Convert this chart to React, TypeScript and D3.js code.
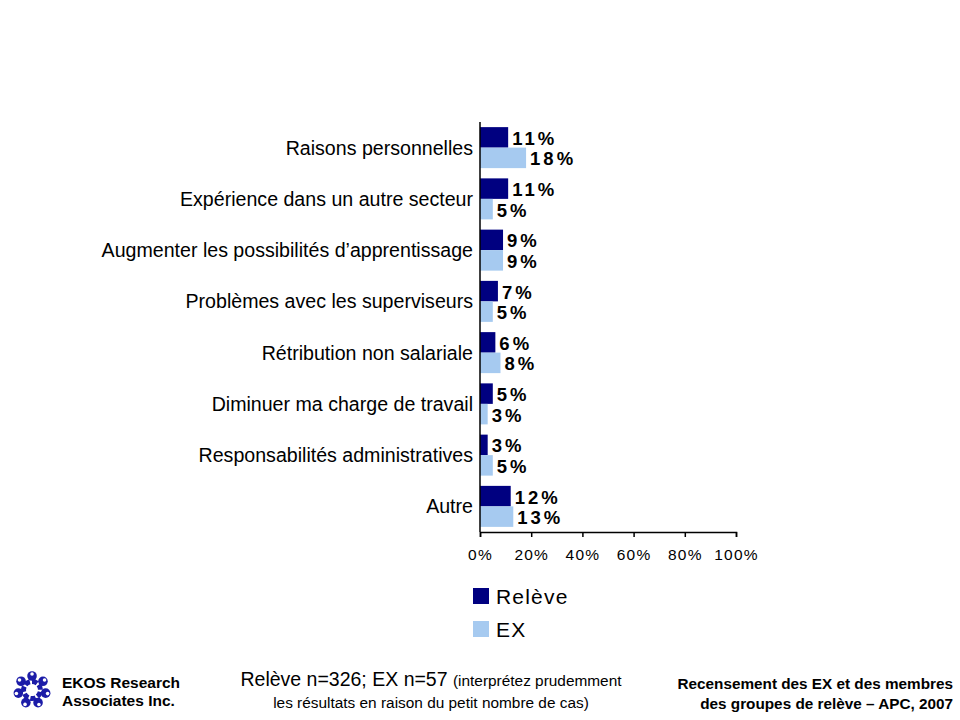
import React, { useEffect, useRef } from 'react'
import * as d3 from 'd3'

const categories = [
    'Raisons personnelles',
    'Expérience dans un autre secteur',
    'Augmenter les possibilités d\u2019apprentissage',
    'Problèmes avec les superviseurs',
    'Rétribution non salariale',
    'Diminuer ma charge de travail',
    'Responsabilités administratives',
    'Autre',
]
const releveValues = [11, 11, 9, 7, 6, 5, 3, 12]
const exValues = [18, 5, 9, 5, 8, 3, 5, 13]
const seriesNames = ['Relève', 'EX']
const seriesColors = ['#000080', '#a6caf0']
const xTicks = [0, 20, 40, 60, 80, 100]

const FONT = '"Liberation Sans", Arial, sans-serif'

const App: React.FC = () => {
    const svgRef = useRef<SVGSVGElement>(null)

    useEffect(() => {
        if (!svgRef.current) return
        const svg = d3.select(svgRef.current)
        svg.selectAll('*').remove()

        const left = 480, right = 736, top = 122, bottom = 532

        const x = d3.scaleLinear().domain([0, 100]).range([left, right])
        const y = d3.scaleBand().domain(categories).range([top, bottom]).paddingInner(0.2).paddingOuter(0.1)
        const sub = d3.scaleBand().domain(seriesNames).range([0, y.bandwidth()])

        const series = [releveValues, exValues]
        const g = svg.append('g')

        // Bars and value labels
        series.forEach((vals, si) => {
            g.selectAll(`.bar${si}`)
                .data(categories)
                .enter().append('rect')
                .attr('x', x(0))
                .attr('y', d => (y(d) as number) + (sub(seriesNames[si]) as number))
                .attr('width', (d, i) => x(vals[i]) - x(0))
                .attr('height', sub.bandwidth())
                .attr('fill', seriesColors[si])

            g.selectAll(`.lbl${si}`)
                .data(categories)
                .enter().append('text')
                .attr('x', (d, i) => x(vals[i]) + 4)
                .attr('y', d => (y(d) as number) + (sub(seriesNames[si]) as number) + sub.bandwidth() / 2 + 1)
                .attr('dominant-baseline', 'central')
                .style('font-family', FONT)
                .style('font-size', '18.5px')
                .style('font-weight', 'bold')
                .style('letter-spacing', '3px')
                .style('fill', '#000')
                .text((d, i) => `${vals[i]}%`)
        })

        // Y axis line + category labels
        g.append('line')
            .attr('x1', left).attr('x2', left)
            .attr('y1', top).attr('y2', bottom)
            .attr('stroke', '#000').attr('stroke-width', 1.5)

        g.selectAll('.cat')
            .data(categories)
            .enter().append('text')
            .attr('x', left - 7)
            .attr('y', d => (y(d) as number) + y.bandwidth() / 2)
            .attr('dominant-baseline', 'central')
            .attr('text-anchor', 'end')
            .style('font-family', FONT)
            .style('font-size', '19.6px')
            .style('fill', '#000')
            .text(d => d)

        // X axis
        const xAxis = g.append('g')
            .attr('transform', `translate(0,${bottom})`)
            .call(d3.axisBottom(x).tickValues(xTicks).tickSize(5).tickFormat(d => `${d}%`))
        xAxis.select('.domain').attr('stroke', '#000').attr('stroke-width', 1.5)
        xAxis.selectAll('.tick line').attr('stroke', '#000').attr('stroke-width', 1.5)
        xAxis.selectAll('.tick text')
            .attr('dy', '1.3em')
            .style('font-family', FONT)
            .style('font-size', '15.5px')
            .style('letter-spacing', '1.2px')
            .style('fill', '#000')

        // Legend
        const legend = svg.append('g').attr('transform', 'translate(473,588)')
        seriesNames.forEach((name, i) => {
            legend.append('rect')
                .attr('x', 0).attr('y', i * 33)
                .attr('width', 16).attr('height', 16)
                .attr('fill', seriesColors[i])
            legend.append('text')
                .attr('x', 23).attr('y', i * 33 + 8)
                .attr('dominant-baseline', 'central')
                .style('font-family', FONT)
                .style('font-size', '21px')
                .style('letter-spacing', '1.2px')
                .text(name)
        })

        // Footer: logo
        const logo = svg.append('g').attr('transform', 'translate(32,690)')
        d3.range(7).forEach(k => {
            const a = (k / 7) * 2 * Math.PI
            const r = 14
            logo.append('path')
                .attr('d', d3.arc()({ innerRadius: 6, outerRadius: 11, startAngle: a, endAngle: a + 0.65 }) as string)
                .attr('fill', '#1c1ca8')
            logo.append('circle')
                .attr('cx', Math.sin(a + 0.9) * r)
                .attr('cy', -Math.cos(a + 0.9) * r)
                .attr('r', 4.8)
                .attr('fill', '#1c1ca8')
            logo.append('circle')
                .attr('cx', Math.sin(a + 0.9) * (r + 2))
                .attr('cy', -Math.cos(a + 0.9) * (r + 2))
                .attr('r', 1.8)
                .attr('fill', '#fff')
        })

        const foot = svg.append('g').style('font-family', FONT).style('fill', '#000')
        foot.append('text').attr('x', 62).attr('y', 688)
            .style('font-size', '15.5px').style('font-weight', 'bold').text('EKOS Research')
        foot.append('text').attr('x', 62).attr('y', 706)
            .style('font-size', '15.5px').style('font-weight', 'bold').text('Associates Inc.')

        const c1 = foot.append('text').attr('x', 431).attr('y', 686).attr('text-anchor', 'middle')
        c1.append('tspan').style('font-size', '19.5px').text('Relève n=326; EX n=57 ')
        c1.append('tspan').style('font-size', '15.4px').text('(interprétez prudemment')
        foot.append('text').attr('x', 431).attr('y', 708).attr('text-anchor', 'middle')
            .style('font-size', '15.4px').text('les résultats en raison du petit nombre de cas)')

        foot.append('text').attr('x', 953).attr('y', 689).attr('text-anchor', 'end')
            .style('font-size', '15.3px').style('font-weight', '600').text('Recensement des EX et des membres')
        foot.append('text').attr('x', 953).attr('y', 709).attr('text-anchor', 'end')
            .style('font-size', '15.3px').style('font-weight', '600').text('des groupes de relève \u2013 APC, 2007')
    }, [])

    return (
        <svg ref={svgRef} width={960} height={720} viewBox="0 0 960 720"
            style={{ position: 'absolute', left: 0, top: 0, background: '#fff' }} />
    )
}

export default App
